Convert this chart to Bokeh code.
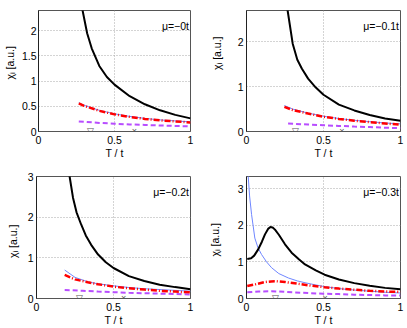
import math
from bokeh.plotting import figure
from bokeh.layouts import column, row
from bokeh.models import Range1d, FixedTicker, Label, LabelSet, ColumnDataSource
from bokeh.embed import file_html
from bokeh.resources import INLINE

# ---------------- data ----------------
mu_labels = ["μ=−0t", "μ=−0.1t", "μ=−0.2t", "μ=−0.3t"]
y_label = "χᵢ [a.u.]"
x_label = "T / t"
y_max = [2.4, 2.7, 3.0, 3.33]
y_ticks = [[0, 0.5, 1, 1.5, 2], [0, 1, 2], [0, 1, 2, 3], [0, 1, 2, 3]]
x_ticks = [0, 0.5, 1]

# panel 1 (mu = -0t)
black_T1 = [0.27, 0.29, 0.32, 0.35, 0.40, 0.45, 0.50, 0.60, 0.70, 0.80, 0.90, 1.00]
black_c1 = [2.9, 2.4, 1.95, 1.65, 1.30, 1.08, 0.93, 0.70, 0.54, 0.42, 0.33, 0.26]
red_T1 = [0.265, 0.3, 0.4, 0.5, 0.6, 0.7, 0.8, 0.9, 1.0]
red_c1 = [0.56, 0.51, 0.41, 0.34, 0.29, 0.25, 0.22, 0.20, 0.18]
blue_T1 = [0.265, 0.3, 0.4, 0.5, 0.6, 0.7, 0.8, 0.9, 1.0]
blue_c1 = [0.57, 0.52, 0.42, 0.35, 0.30, 0.26, 0.23, 0.21, 0.19]
purp_T1 = [0.265, 0.4, 0.5, 0.6, 0.7, 0.8, 0.9, 1.0]
purp_c1 = [0.20, 0.17, 0.155, 0.14, 0.13, 0.12, 0.11, 0.10]
mark_tri1, mark_x1 = 0.34, 0.63

# panel 2 (mu = -0.1t)
black_T2 = [0.25, 0.267, 0.30, 0.33, 0.36, 0.40, 0.45, 0.50, 0.60, 0.70, 0.80, 0.90, 1.00]
black_c2 = [3.2, 2.7, 1.96, 1.60, 1.40, 1.18, 0.98, 0.82, 0.60, 0.47, 0.37, 0.29, 0.24]
red_T2 = [0.246, 0.3, 0.4, 0.5, 0.6, 0.7, 0.8, 0.9, 1.0]
red_c2 = [0.55, 0.48, 0.40, 0.33, 0.28, 0.24, 0.21, 0.18, 0.15]
blue_T2 = [0.246, 0.3, 0.4, 0.5, 0.6, 0.7, 0.8, 0.9, 1.0]
blue_c2 = [0.58, 0.50, 0.41, 0.34, 0.29, 0.25, 0.22, 0.19, 0.17]
purp_T2 = [0.27, 0.4, 0.5, 0.6, 0.7, 0.8, 0.9, 1.0]
purp_c2 = [0.18, 0.155, 0.14, 0.125, 0.11, 0.10, 0.085, 0.075]
mark_tri2, mark_x2 = 0.316, 0.62

# panel 3 (mu = -0.2t)
black_T3 = [0.20, 0.215, 0.237, 0.26, 0.29, 0.32, 0.355, 0.40, 0.45, 0.50, 0.60, 0.70, 0.80, 0.90, 1.00]
black_c3 = [3.5, 3.0, 2.48, 2.12, 1.82, 1.55, 1.32, 1.08, 0.89, 0.75, 0.55, 0.43, 0.34, 0.28, 0.23]
blue_T3 = [0.183, 0.25, 0.333, 0.4, 0.505, 0.6, 0.7, 0.8, 0.9, 1.0]
blue_c3 = [0.70, 0.52, 0.41, 0.36, 0.31, 0.27, 0.24, 0.22, 0.20, 0.18]
red_T3 = [0.183, 0.25, 0.333, 0.4, 0.505, 0.6, 0.7, 0.8, 0.9, 1.0]
red_c3 = [0.58, 0.47, 0.40, 0.35, 0.29, 0.25, 0.22, 0.19, 0.17, 0.15]
purp_T3 = [0.183, 0.3, 0.4, 0.5, 0.6, 0.7, 0.8, 0.9, 1.0]
purp_c3 = [0.21, 0.19, 0.17, 0.155, 0.14, 0.13, 0.12, 0.11, 0.10]
mark_tri3, mark_x3 = 0.28, 0.566

# panel 4 (mu = -0.3t)
black_T4 = [0.005, 0.03, 0.05, 0.076, 0.10, 0.12, 0.14, 0.155, 0.17, 0.185, 0.21, 0.25,
            0.293, 0.34, 0.38, 0.45, 0.507, 0.6, 0.7, 0.8, 0.9, 1.0]
black_c4 = [1.08, 1.10, 1.17, 1.34, 1.55, 1.75, 1.90, 1.95, 1.94, 1.88, 1.74, 1.48,
            1.25, 1.07, 0.93, 0.77, 0.65, 0.52, 0.42, 0.35, 0.29, 0.25]
blue_T4 = [0.01, 0.02, 0.033, 0.054, 0.075, 0.098, 0.13, 0.163, 0.21, 0.272, 0.33, 0.38,
           0.45, 0.5, 0.6, 0.7, 0.8, 0.9, 1.0]
blue_c4 = [3.4, 2.8, 2.29, 1.65, 1.38, 1.2, 1.0, 0.84, 0.68, 0.56, 0.48, 0.43,
           0.37, 0.33, 0.27, 0.23, 0.20, 0.17, 0.15]
red_T4 = [0.005, 0.06, 0.12, 0.16, 0.196, 0.25, 0.337, 0.42, 0.507, 0.6, 0.7, 0.8, 0.9, 1.0]
red_c4 = [0.34, 0.39, 0.45, 0.465, 0.47, 0.45, 0.40, 0.35, 0.31, 0.27, 0.24, 0.21, 0.19, 0.18]
purp_T4 = [0.005, 0.08, 0.163, 0.25, 0.35, 0.5, 0.6, 0.7, 0.8, 0.9, 1.0]
purp_c4 = [0.17, 0.19, 0.20, 0.18, 0.16, 0.13, 0.12, 0.105, 0.095, 0.085, 0.08]
mark_tri4, mark_x4 = 0.186, 0.51

panels = [
    (black_T1, black_c1, blue_T1, blue_c1, red_T1, red_c1, purp_T1, purp_c1, mark_tri1, mark_x1),
    (black_T2, black_c2, blue_T2, blue_c2, red_T2, red_c2, purp_T2, purp_c2, mark_tri2, mark_x2),
    (black_T3, black_c3, blue_T3, blue_c3, red_T3, red_c3, purp_T3, purp_c3, mark_tri3, mark_x3),
    (black_T4, black_c4, blue_T4, blue_c4, red_T4, red_c4, purp_T4, purp_c4, mark_tri4, mark_x4),
]

FONT = "Liberation Sans"
BLACK = "#000000"
BLUE = "#6f86ff"
RED = "#ff0000"
PURPLE = "#b84dff"

# plot layout per panel: (width, height, left, right, top, bottom, y tick standoff)
geo = [
    (186, 170, 18, 14, 10, 39, 2),
    (173, 170, 12, 7, 10, 39, 3),
    (184, 158, 16, 14, 6, 30, 3),
    (175, 158, 14, 7, 6, 30, 3),
]
# y-label strips: (width, height, label x fraction, label y fraction)
strips = [
    (18, 170, 0.53, 0.568),
    (30, 170, 0.40, 0.647),
    (20, 158, 0.62, 0.468),
    (28, 158, 0.375, 0.481),
]


def label_strip(i):
    w, h, fx, fy = strips[i]
    s = figure(width=w, height=h, output_backend="svg", toolbar_location=None,
               x_range=Range1d(0, 1), y_range=Range1d(0, 1), title=None,
               x_axis_location=None, y_axis_location=None,
               min_border_left=0, min_border_right=0, min_border_top=0,
               min_border_bottom=0)
    s.outline_line_color = None
    s.grid.visible = False
    s.background_fill_color = "white"
    s.border_fill_color = "white"
    s.add_layout(Label(x=fx, y=fy, text=y_label, angle=math.pi / 2,
                       text_align="center", text_baseline="middle", text_font=FONT,
                       text_font_size="10.5px", text_color="black"))
    return s


figs = []
for i, d in enumerate(panels):
    bT, bc, uT, uc, rT, rc, pT, pc, mtri, mx = d
    w, h, bl, br, bt, bb, ystand = geo[i]
    p = figure(width=w, height=h, output_backend="svg", toolbar_location=None,
               x_range=Range1d(0, 1), y_range=Range1d(0, y_max[i]), title=None,
               min_border_left=bl, min_border_right=br, min_border_top=bt,
               min_border_bottom=bb)
    p.outline_line_color = "#555555"
    p.background_fill_color = "white"
    p.border_fill_color = "white"

    p.xaxis.ticker = FixedTicker(ticks=x_ticks)
    p.yaxis.ticker = FixedTicker(ticks=y_ticks[i])
    p.xaxis.major_label_overrides = {0: "0", 0.5: "0.5", 1: "1"}
    for ax in (p.xaxis, p.yaxis):
        ax.major_label_text_font = FONT
        ax.major_label_text_font_size = "10.5px"
        ax.major_label_text_color = "black"
        ax.major_tick_out = 0
        ax.major_tick_in = 0
        ax.minor_tick_out = 0
        ax.minor_tick_in = 0
    p.xaxis.axis_label = x_label
    p.xaxis.axis_label_text_font = FONT
    p.xaxis.axis_label_text_font_size = "10.5px"
    p.xaxis.axis_label_text_font_style = "normal"
    p.xaxis.axis_label_text_color = "black"
    p.xaxis.axis_label_standoff = 0
    p.xaxis.major_label_standoff = 4
    p.yaxis.major_label_standoff = ystand
    p.xaxis.axis_line_color = "#555555"
    p.yaxis.axis_line_color = "#222222"

    p.xgrid.ticker = FixedTicker(ticks=x_ticks)
    p.ygrid.ticker = FixedTicker(ticks=y_ticks[i])
    for g in (p.xgrid, p.ygrid):
        g.grid_line_color = "#a8a8a8"
        g.grid_line_dash = "1 2"
        g.grid_line_width = 1

    p.line(uT, uc, line_color=BLUE, line_width=1)
    p.line(pT, pc, line_color=PURPLE, line_width=2, line_dash="5 3")
    p.line(rT, rc, line_color=RED, line_width=2.5, line_dash="6 2 1 2")
    p.line(bT, bc, line_color=BLACK, line_width=2)

    msrc = ColumnDataSource(data=dict(x=[mtri, mx], y=[0, 0], t=["▽", "×"]))
    p.add_layout(LabelSet(x="x", y="y", text="t", source=msrc, text_align="center",
                          text_baseline="middle", text_font_size="9px",
                          text_color="#555555", y_offset=1))

    p.add_layout(Label(x=0.99, y=y_max[i] * 0.875, text=mu_labels[i], text_align="right",
                       text_baseline="middle", text_font=FONT, text_font_size="10.5px",
                       text_color="black"))
    figs.append(p)

layout = column(
    row(label_strip(0), figs[0], label_strip(1), figs[1]),
    row(label_strip(2), figs[2], label_strip(3), figs[3]),
)

open("out.html", "w").write(file_html(layout, INLINE))
